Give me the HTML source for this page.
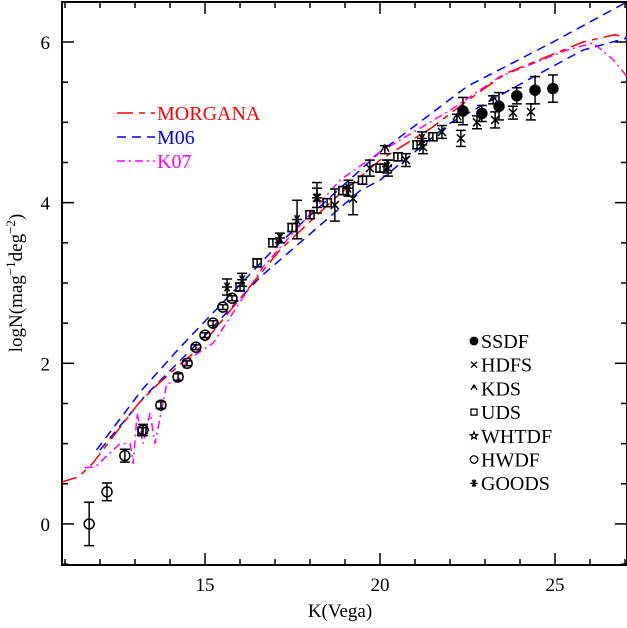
<!DOCTYPE html>
<html><head><meta charset="utf-8"><style>
html,body{margin:0;padding:0;background:#fff;}
svg{display:block;font-family:"Liberation Serif",serif;}
</style></head><body>
<svg id="chart" width="627" height="628" viewBox="0 0 627 628" xmlns="http://www.w3.org/2000/svg"></svg>
<script>
// ---- data ----
const morganaK=[10.9,11.4,11.8,13.1,13.7,14.86,17.14,18.7,20.0,21.5,22.4,23.6,24.9,25.8,26.7,27.05];
const morganaV=[0.52,0.59,0.76,1.5,1.76,2.2,3.41,4.05,4.53,4.94,5.24,5.61,5.84,6.0,6.09,6.06];
const m06UpK=[11.9,13.2,14.29,17.14,20.0,22.5,24.9,27.06];
const m06UpV=[0.92,1.67,2.2,3.5,4.63,5.45,5.99,6.50];
const m06LoK=[12.0,13.3,14.9,16.57,19.43,20.0,22.0,24.4,25.8,27.06];
const m06LoV=[0.92,1.6,2.3,3.07,4.15,4.28,4.99,5.57,5.9,6.05];
const k07K=[11.57,11.86,12.57,12.86,12.95,13.06,13.23,13.43,13.57,13.91,14.23,14.49,15.23,16.66,18.86,20.0,22.0,23.43,25.34,26.09,26.66,27.06];
const k07V=[0.70,0.71,1.0,1.0,0.75,1.38,1.0,1.38,1.0,1.75,1.77,2.04,2.25,3.2,4.28,4.63,5.15,5.57,5.9,5.99,5.78,5.57];
const hwdfK=[11.69,12.2,12.71,13.23,13.74,14.23,14.49,14.74,15.0,15.23,15.51,15.77];
const hwdfV=[0.0,0.40,0.85,1.17,1.48,1.83,2.0,2.2,2.35,2.5,2.7,2.81];
const hwdfE=[0.27,0.11,0.08,0.07,0.04,0.04,0.03,0.03,0.03,0.03,0.03,0.03];
const udsK=[13.2,16.0,16.49,16.94,17.49,18.0,18.49,18.94,19.5,20.0,20.51,21.06,21.51];
const udsV=[1.15,2.95,3.25,3.5,3.69,3.85,4.0,4.15,4.28,4.43,4.57,4.72,4.82];
const hdfsK=[18.2,18.71,19.23,19.71,20.23,20.74,21.23,21.77,22.31,22.77,23.29,23.8,24.31];
const hdfsV=[4.06,3.97,4.05,4.43,4.43,4.53,4.69,4.88,4.8,5.0,5.03,5.12,5.13];
const hdfsE=[0.12,0.2,0.2,0.1,0.1,0.08,0.08,0.08,0.1,0.08,0.1,0.08,0.1];
const ssdfK=[22.37,22.91,23.4,23.91,24.43,24.94];
const ssdfV=[5.14,5.11,5.2,5.33,5.4,5.42];
const ssdfE=[0.17,0.1,0.17,0.1,0.17,0.17];
const kdsK=[20.14,22.2,23.23];
const kdsV=[4.66,5.05,5.28];
const goodsK=[15.63,16.06,17.14,17.63,18.2,19.1,20.2,21.2];
const goodsV=[2.95,3.04,3.56,3.79,4.06,4.18,4.45,4.8];
const goodsE=[0.1,0.08,0.06,0.24,0.19,0.1,0.08,0.08];
const xTicks=[15,20,25];
const yTicks=[0,2,4,6];

const NS="http://www.w3.org/2000/svg";
const svg=document.getElementById('chart');
const L=62,R=627,T=2,B=565;
const xMin=10.914,xMax=27.057,yMin=-0.511,yMax=6.498;
const X=k=>L+(k-xMin)/(xMax-xMin)*(R-L);
const Y=v=>B-(v-yMin)/(yMax-yMin)*(B-T);
function el(tag,attrs,parent){const e=document.createElementNS(NS,tag);for(const a in attrs)e.setAttribute(a,attrs[a]);(parent||svg).appendChild(e);return e;}

const frame=el('rect',{x:L,y:T,width:R-L,height:B-T,fill:'none',stroke:'#000','stroke-width':2});


const tg=el('g',{stroke:'#000','stroke-width':1.5});


for(let k=11;k<=27;k++){const big=k%5===0,len=big?12:6;
 el('line',{x1:X(k),x2:X(k),y1:B,y2:B-len},tg);el('line',{x1:X(k),x2:X(k),y1:T,y2:T+len},tg);}
for(let v=-0.5;v<=6.5;v+=0.5){const big=Math.abs(v%2)<1e-6,len=big?12:6;
 el('line',{x1:L,x2:L+len,y1:Y(v),y2:Y(v)},tg);el('line',{x1:R,x2:R-len,y1:Y(v),y2:Y(v)},tg);}
xTicks.forEach(t=>{const e=el('text',{x:X(t),y:591,'text-anchor':'middle','font-size':19});e.textContent=t;
 
 });
yTicks.forEach(t=>{const e=el('text',{x:50,y:Y(t)+7,'text-anchor':'end','font-size':19});e.textContent=t;
 
 });
const xt=el('text',{x:340,y:617,'text-anchor':'middle','font-size':19});xt.textContent='K(Vega)';


const yt=el('text',{x:0,y:0,'text-anchor':'middle','font-size':19,transform:'translate(22,283) rotate(-90)'});
yt.innerHTML='logN(mag<tspan dy="-7" font-size="13">−1</tspan><tspan dy="7">deg</tspan><tspan dy="-7" font-size="13">−2</tspan><tspan dy="7">)</tspan>';



const clip=el('clipPath',{id:'cp'});el('rect',{x:L,y:T,width:R-L,height:B-T},clip);
function line(K,V,color,dash,name){const p=el('polyline',{points:K.map((k,i)=>X(k)+','+Y(V[i])).join(' '),fill:'none',stroke:color,'stroke-width':1.5,'stroke-dasharray':dash,'clip-path':'url(#cp)'});
 
 }
line(m06UpK,m06UpV,'#0000ff','9 6','m06-line-upper');
line(m06LoK,m06LoV,'#0000ff','9 6','m06-line-lower');
line(k07K,k07V,'#ff00ff','8 4 2 4','k07-line');
line(morganaK,morganaV,'#ff0000','16 6 6 6','morgana-line');

function ebar(g,k,v,e){if(!e)return;const x=X(k);el('line',{x1:x,x2:x,y1:Y(v+e),y2:Y(v-e)},g);
 el('line',{x1:x-5,x2:x+5,y1:Y(v+e),y2:Y(v+e)},g);el('line',{x1:x-5,x2:x+5,y1:Y(v-e),y2:Y(v-e)},g);}
function sym(g,type,x,y,s){s=s||1;
 if(type==='circle')el('circle',{cx:x,cy:y,r:5*s,fill:'none'},g);
 else if(type==='dot')el('circle',{cx:x,cy:y,r:5*s,fill:'#000'},g);
 else if(type==='square')el('rect',{x:x-4*s,y:y-4*s,width:8*s,height:8*s,fill:'none'},g);
 else if(type==='cross'){el('line',{x1:x-4*s,y1:y-4*s,x2:x+4*s,y2:y+4*s},g);el('line',{x1:x-4*s,y1:y+4*s,x2:x+4*s,y2:y-4*s},g);}
 else if(type==='tri'){el('line',{x1:x,y1:y,x2:x,y2:y-5*s},g);el('line',{x1:x,y1:y-5*s,x2:x-4*s,y2:y+2*s},g);el('line',{x1:x,y1:y-5*s,x2:x+4*s,y2:y+2*s},g);}
 else if(type==='star'){for(let a=0;a<3;a++){const t=a*Math.PI/3;el('line',{x1:x-5*s*Math.cos(t),y1:y-5*s*Math.sin(t),x2:x+5*s*Math.cos(t),y2:y+5*s*Math.sin(t)},g);}el('line',{x1:x,y1:y-5*s,x2:x,y2:y+5*s},g);}
 else if(type==='pent'){const pts=[];for(let i=0;i<10;i++){const r=i%2?2.2*s:5*s,t=-Math.PI/2+i*Math.PI/5;pts.push((x+r*Math.cos(t))+','+(y+r*Math.sin(t)));}el('polygon',{points:pts.join(' '),fill:'none'},g);}
}
function series(K,V,E,type,name){const g=el('g',{stroke:'#000','stroke-width':1.5,fill:'none'});
 
 
 K.forEach((k,i)=>{ebar(g,k,V[i],E?E[i]:0.05);sym(g,type,X(k),Y(V[i]));});}
series(hwdfK,hwdfV,hwdfE,'circle','hwdf-points');
series(udsK,udsV,null,'square','uds-points');
series(hdfsK,hdfsV,hdfsE,'cross','hdfs-points');
series(kdsK,kdsV,null,'tri','kds-points');
series(goodsK,goodsV,goodsE,'star','goods-points');
series(ssdfK,ssdfV,ssdfE,'dot','ssdf-points');

const ml=[['MORGANA','#ff0000','16 6 6 6'],['M06','#0000ff','9 6'],['K07','#ff00ff','8 4 2 4']];
ml.forEach((m,i)=>{const y=113+i*24;const g=el('g',{});
 
 
 el('line',{x1:117,x2:155,y1:y,y2:y,stroke:m[1],'stroke-width':1.5,'stroke-dasharray':m[2]},g);
 const t=el('text',{x:157,y:y+7,'font-size':20,fill:m[1]},g);t.textContent=m[0];});
const dl=[['dot','SSDF'],['cross','HDFS'],['tri','KDS'],['square','UDS'],['pent','WHTDF'],['circle','HWDF'],['star','GOODS']];
dl.forEach((d,i)=>{const y=341+i*23.7;const g=el('g',{stroke:'#000','stroke-width':1.3,fill:'none'});
 
 
 sym(g,d[0],474,y,0.75);
 const t=el('text',{x:481,y:y+7,'font-size':20,fill:'#000',stroke:'none'},g);t.textContent=d[1];});
</script>
</body></html>
